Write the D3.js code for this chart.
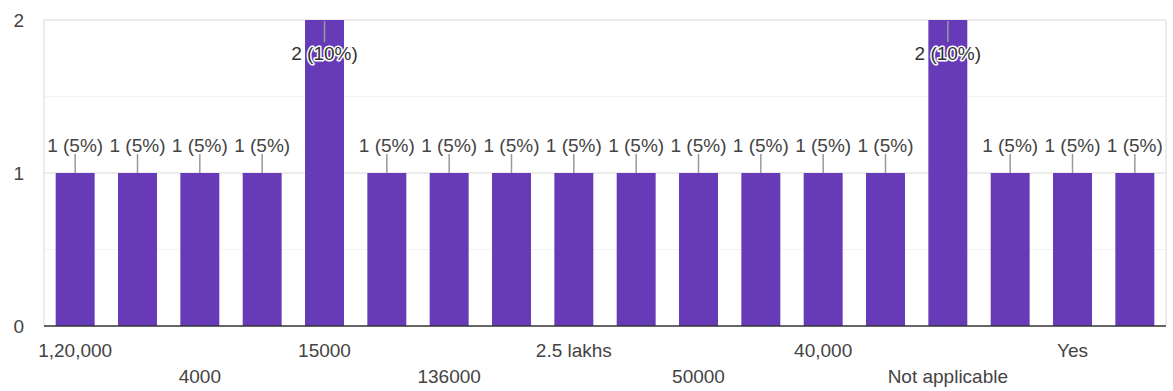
<!DOCTYPE html>
<html>
<head>
<meta charset="utf-8">
<script src="https://cdn.jsdelivr.net/npm/d3@7"></script>
<style>
  html, body { margin: 0; padding: 0; background: #fff; }
  svg { display: block; }
  text { font-family: "Liberation Sans", Arial, sans-serif; }
</style>
</head>
<body>
<svg id="chart" width="1173" height="391"></svg>
<script>
// Category labels (only every other label is visible in the reference; hidden ones are unknown)
const categories = ["1,20,000", "", "4000", "", "15000", "", "136000", "", "2.5 lakhs", "", "50000", "", "40,000", "", "Not applicable", "", "Yes", ""];
const counts = [1, 1, 1, 1, 2, 1, 1, 1, 1, 1, 1, 1, 1, 1, 2, 1, 1, 1];
const percents = [5, 5, 5, 5, 10, 5, 5, 5, 5, 5, 5, 5, 5, 5, 10, 5, 5, 5];
const yTicks = [0, 1, 2];
const yMinorTicks = [0.5, 1.5];

(function () {
const svg = d3.select("#chart");
const pLeft = 44, pRight = 1166, pTop = 20, pBottom = 326;

const x = d3.scaleBand()
  .domain(d3.range(categories.length))
  .range([pLeft, pRight])
  .paddingInner(0.375)
  .paddingOuter(0.1875);

const y = d3.scaleLinear().domain([0, 2]).range([pBottom, pTop]);

// minor gridlines
svg.append("g").selectAll("line").data(yMinorTicks).join("line")
  .attr("x1", pLeft).attr("x2", pRight)
  .attr("y1", d => y(d)).attr("y2", d => y(d))
  .attr("stroke", "#f3f3f3").attr("stroke-width", 1);

// major gridlines
svg.append("g").selectAll("line").data(yTicks.filter(d => d > 0)).join("line")
  .attr("x1", pLeft).attr("x2", pRight)
  .attr("y1", d => y(d)).attr("y2", d => y(d))
  .attr("stroke", "#e6e6e6").attr("stroke-width", 1.5);

// side borders
svg.append("line").attr("x1", pLeft).attr("x2", pLeft).attr("y1", y(2)).attr("y2", y(0))
  .attr("stroke", "#e6e6e6").attr("stroke-width", 1.5);
svg.append("line").attr("x1", pRight).attr("x2", pRight).attr("y1", y(2)).attr("y2", y(0))
  .attr("stroke", "#e6e6e6").attr("stroke-width", 1.5);

// bars
svg.append("g").selectAll("rect").data(counts).join("rect")
  .attr("x", (d, i) => x(i))
  .attr("y", d => y(d))
  .attr("width", x.bandwidth())
  .attr("height", d => y(0) - y(d))
  .attr("fill", "#673ab7");

// baseline axis
svg.append("line").attr("x1", pLeft).attr("x2", pRight).attr("y1", y(0)).attr("y2", y(0))
  .attr("stroke", "#333").attr("stroke-width", 1.5);

// y axis labels
const yAxis = d3.axisLeft(y).tickValues(yTicks).tickFormat(d3.format("d")).tickSize(0).tickPadding(0);
const yg = svg.append("g").attr("transform", `translate(24,0)`).call(yAxis);
yg.select(".domain").remove();
yg.selectAll("text").attr("font-size", 19).attr("fill", "#444")
  .attr("font-family", "Liberation Sans, Arial, sans-serif");

// x axis labels (two staggered rows)
const xAxis = d3.axisBottom(x).tickFormat(i => categories[i]).tickSize(0).tickPadding(0);
const xg = svg.append("g").attr("transform", `translate(0,${pBottom})`).call(xAxis);
xg.select(".domain").remove();
xg.selectAll("text")
  .attr("font-size", 19).attr("fill", "#444")
  .attr("font-family", "Liberation Sans, Arial, sans-serif")
  .attr("dy", null)
  .attr("y", (i) => (i % 4 === 0 ? 31 : 57));

// data labels
const lab = svg.append("g");
const maxV = d3.max(counts);
counts.forEach((d, i) => {
  const cx = x(i) + x.bandwidth() / 2;
  if (d === maxV) {
    lab.append("line").attr("x1", cx).attr("x2", cx)
      .attr("y1", y(d) + 1).attr("y2", y(d) + 22)
      .attr("stroke", "#999").attr("stroke-width", 1.5);
    lab.append("text").attr("x", cx).attr("y", y(d) + 40)
      .attr("text-anchor", "middle").attr("font-size", 19)
      .attr("fill", "#333").attr("stroke", "#fff").attr("stroke-width", 3)
      .attr("paint-order", "stroke").attr("stroke-linejoin", "round")
      .text(`${d} (${percents[i]}%)`);
  } else {
    lab.append("line").attr("x1", cx).attr("x2", cx)
      .attr("y1", y(d)).attr("y2", y(d) - 19)
      .attr("stroke", "#999").attr("stroke-width", 1.5);
    lab.append("text").attr("x", cx).attr("y", y(d) - 21)
      .attr("text-anchor", "middle").attr("font-size", 19)
      .attr("fill", "#444")
      .text(`${d} (${percents[i]}%)`);
  }
});
})();
</script>
</body>
</html>
